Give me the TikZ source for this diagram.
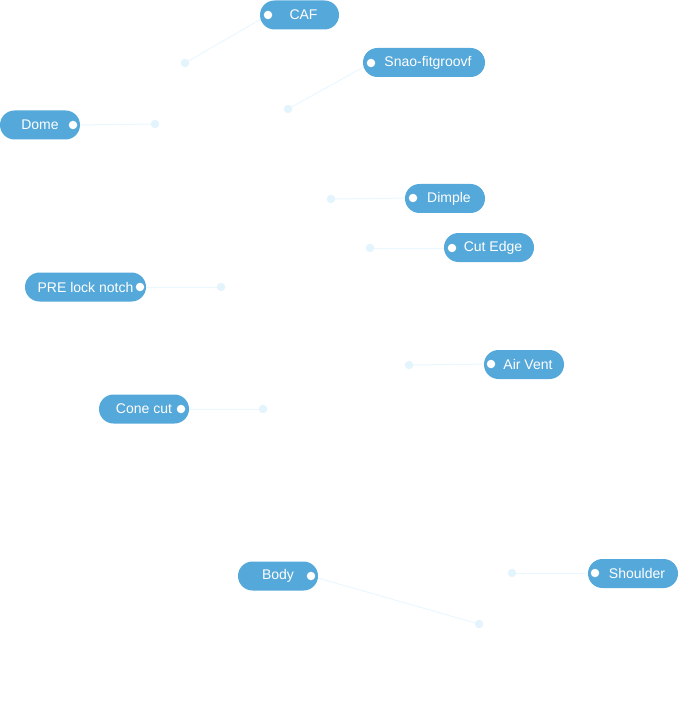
\documentclass[tikz,border=0pt]{standalone}
\usepackage{fontspec}
\setmainfont{Liberation Sans}
\usetikzlibrary{shapes.misc}
\definecolor{pillblue}{HTML}{55A8DA}
\definecolor{lineblue}{HTML}{EAF7FE}
\definecolor{endblue}{HTML}{E4F4FD}
\begin{document}
\begin{tikzpicture}[x=1pt,y=-1pt,
  pill/.style={rounded rectangle, fill=pillblue, text=white, inner sep=0pt,
    minimum height=29pt, font=\fontsize{14}{16}\selectfont},
  whitedot/.style={circle, fill=white, inner sep=0pt, minimum size=8.5pt},
  enddot/.style={circle, fill=endblue, inner sep=0pt, minimum size=8.5pt},
  link/.style={draw=lineblue, line width=1pt}]
\useasboundingbox (0,0) rectangle (678,727);
% anchor coordinates
\coordinate (cafd) at (268,15);  \coordinate (cafe) at (185,63);
\coordinate (snad) at (371,63);  \coordinate (snae) at (288,109);
\coordinate (domd) at (73,125);  \coordinate (dome) at (155,124);
\coordinate (dimd) at (413,198); \coordinate (dime) at (331,199);
\coordinate (cutd) at (452,248); \coordinate (cute) at (370,248);
\coordinate (pred) at (140,287); \coordinate (pree) at (221,287);
\coordinate (aird) at (491,364); \coordinate (aire) at (409,365);
\coordinate (cond) at (181,409); \coordinate (cone) at (263,409);
\coordinate (bodd) at (311,576); \coordinate (bode) at (479,624);
\coordinate (shod) at (595,573); \coordinate (shoe) at (512,573);
% connectors
\foreach \n in {caf,sna,dom,dim,cut,pre,air,con,bod,sho}{
  \draw[link] (\n d) -- (\n e);
}
% pills
\node[pill, minimum width=79pt] (cafp) at (299.5,15) {\hspace{8pt}CAF};
\node[pill, minimum width=122pt] (snap) at (424,62.5) {\hspace{8pt}Snao-fitgroovf};
\node[pill, minimum width=80pt] (domp) at (40,125) {Dome\hspace{8pt}};
\node[pill, minimum width=80pt] (dimp) at (445,198.5) {\hspace{8pt}Dimple};
\node[pill, minimum width=90pt] (cutp) at (489,247.5) {\hspace{8pt}Cut Edge};
\node[pill, minimum width=121pt] (prep) at (85.5,287) {PRE lock notch\hspace{8pt}};
\node[pill, minimum width=80pt] (airp) at (524,364.5) {\hspace{8pt}Air Vent};
\node[pill, minimum width=90pt] (conp) at (144,409) {Cone cut\hspace{8pt}};
\node[pill, minimum width=80pt] (bodp) at (278,576) {Body\hspace{8pt}};
\node[pill, minimum width=90pt] (shop) at (633,573.5) {\hspace{8pt}Shoulder};
% dots
\foreach \n in {caf,sna,dom,dim,cut,pre,air,con,bod,sho}{
  \node[whitedot] at (\n d) {};
  \node[enddot] at (\n e) {};
}
\end{tikzpicture}
\end{document}
